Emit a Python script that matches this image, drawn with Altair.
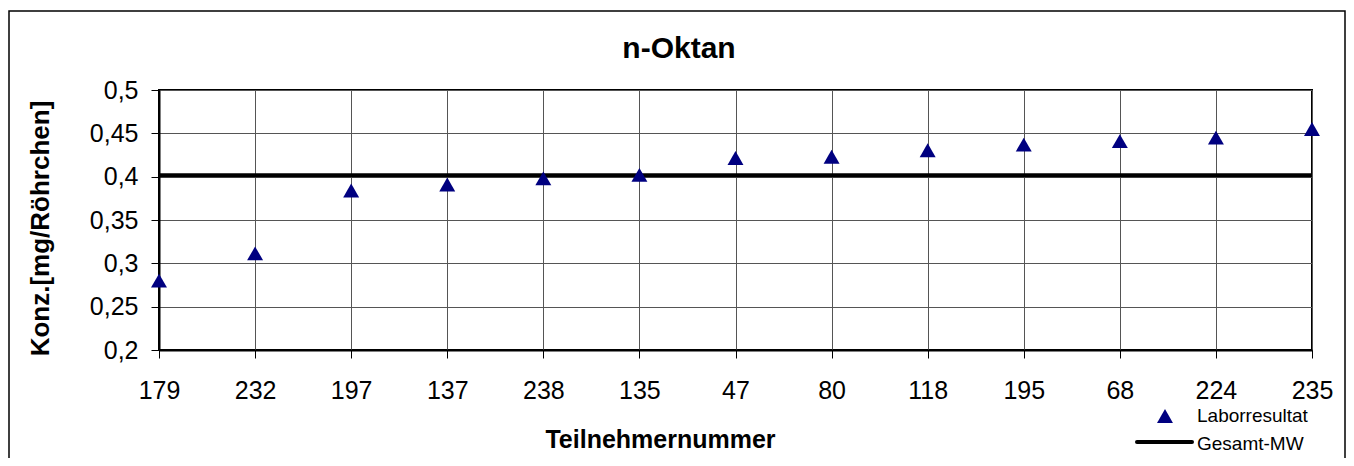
import altair as alt
import pandas as pd

participants = ["179", "232", "197", "137", "238", "135", "47", "80", "118", "195", "68", "224", "235"]
values = [0.280, 0.3115, 0.384, 0.391, 0.398, 0.402, 0.4215, 0.423, 0.4305, 0.437, 0.441, 0.445, 0.455]
overall_mean = 0.4015
y_ticks = [0.2, 0.25, 0.3, 0.35, 0.4, 0.45, 0.5]

df = pd.DataFrame({"Teilnehmer": participants, "Wert": values})
mean_df = pd.DataFrame({"Wert": [overall_mean]})
one = pd.DataFrame({"k": [0]})

FONT = "Liberation Sans"

x_enc = alt.X(
    "Teilnehmer:N",
    sort=participants,
    scale=alt.Scale(type="point", padding=0),
    axis=alt.Axis(
        title="Teilnehmernummer", titleX=501, titleY=89, titleAlign="center",
        titleBaseline="middle", titleFontSize=25, titleFontWeight="bold", titleColor="black",
        labelAngle=0, labelFontSize=25, labelColor="black", labelPadding=20,
        tickSize=8, tickColor="black", tickWidth=1,
        domainColor="black", domainWidth=2,
        grid=True, gridColor="#555555", gridWidth=1,
    ),
)
y_enc = alt.Y(
    "Wert:Q",
    scale=alt.Scale(domain=[0.2, 0.5], nice=False, zero=False),
    axis=alt.Axis(
        values=y_ticks,
        labelExpr="replace(toString(round(datum.value*100)/100), '.', ',')",
        title="Konz.[mg/Röhrchen]", titleX=-119, titleY=138, titleAngle=270,
        titleAlign="center", titleBaseline="middle",
        titleFontSize=26, titleFontWeight="bold", titleColor="black",
        labelFontSize=25, labelColor="black", labelPadding=13,
        tickSize=8, tickColor="black", tickWidth=1,
        domainColor="black", domainWidth=2,
        grid=True, gridColor="#555555", gridWidth=1,
    ),
)

points = alt.Chart(df).mark_point(
    shape="triangle-up", filled=True, size=255, color="#000080", opacity=1
).encode(x=x_enc, y=y_enc)

mean_rule = alt.Chart(mean_df).mark_rule(color="black", strokeWidth=4).encode(y=alt.Y("Wert:Q"))

border = alt.Chart(one).mark_rect(
    fillOpacity=0, stroke="black", strokeWidth=1.5
).encode(x=alt.value(-150), x2=alt.value(1186), y=alt.value(-79), y2=alt.value(372))

title = alt.Chart(one).mark_text(
    text="n-Oktan", fontSize=30, fontWeight="bold", font=FONT, color="black",
    align="center", baseline="middle"
).encode(x=alt.value(520), y=alt.value(-41))

leg_tri = alt.Chart(one).mark_point(
    shape="triangle-up", filled=True, size=255, color="#000080", opacity=1
).encode(x=alt.value(1006), y=alt.value(326))
leg_tri_txt = alt.Chart(one).mark_text(
    text="Laborresultat", fontSize=19, font=FONT, color="black", align="left", baseline="middle"
).encode(x=alt.value(1038), y=alt.value(326))
leg_line = alt.Chart(one).mark_rule(
    color="black", strokeWidth=4, strokeCap="round"
).encode(x=alt.value(978), x2=alt.value(1033), y=alt.value(352))
leg_line_txt = alt.Chart(one).mark_text(
    text="Gesamt-MW", fontSize=19, font=FONT, color="black", align="left", baseline="middle"
).encode(x=alt.value(1038), y=alt.value(354))

chart = alt.layer(
    mean_rule, points, border, title, leg_tri, leg_tri_txt, leg_line, leg_line_txt
).properties(
    width=1153, height=260,
    autosize=alt.AutoSizeParams(type="none"),
    padding={"left": 151, "top": 82, "right": 34, "bottom": 108},
).configure(
    font=FONT, background="white"
).configure_view(
    stroke="black", strokeWidth=2
)

chart.save("out.html", embed_options={"renderer": "svg", "actions": False})
